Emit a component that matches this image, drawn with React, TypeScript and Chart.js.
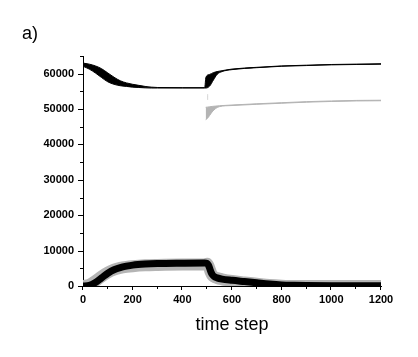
import React, { useEffect, useRef } from 'react';
import { Chart, registerables } from 'chart.js';

Chart.register(...registerables);

// ---- data ----
const panelLabel = 'a)';
const xTitle = 'time step';
const xTickValues = [0, 200, 400, 600, 800, 1000, 1200];
const yTickValues = [0, 10000, 20000, 30000, 40000, 50000, 60000];

// upper black band (population near the top)
const tUpper = [0, 25, 50, 75, 100, 125, 150, 175, 200, 225, 250, 275, 300, 400, 490, 495, 510, 525, 540, 560, 600, 700, 800, 900, 1000, 1100, 1200];
const blackTopHi = [63000, 62700, 62200, 61400, 60200, 59000, 58000, 57400, 57000, 56700, 56400, 56200, 56100, 56050, 56050, 59000, 59800, 60300, 60600, 60850, 61300, 61800, 62200, 62400, 62600, 62700, 62800];
const blackTopLo = [62100, 61300, 60200, 58900, 57700, 57000, 56600, 56400, 56200, 56100, 56000, 55950, 55950, 55950, 55950, 55950, 56500, 58200, 59800, 60600, 61150, 61700, 62100, 62300, 62500, 62600, 62700];

// upper grey band (appears after t = 494)
const tGray = [494, 500, 510, 520, 535, 550, 600, 700, 800, 900, 1000, 1100, 1200];
const grayTopHi = [50500, 50550, 50650, 50750, 50850, 50950, 51150, 51500, 51800, 52100, 52300, 52450, 52500];
const grayTopLo = [47000, 47300, 48200, 49200, 50200, 50700, 51000, 51350, 51650, 51950, 52150, 52300, 52350];

// small grey mark near t = 502
const tMark = [502, 502];
const markVals = [52600, 54200];

// lower series (black and grey)
const tBottom = [0, 25, 50, 75, 100, 125, 150, 175, 200, 250, 300, 400, 490, 500, 505, 510, 515, 520, 528, 540, 560, 600, 650, 700, 750, 800, 850, 900, 1000, 1100, 1200];
const blackBottom = [0, 150, 1000, 2300, 3600, 4600, 5200, 5600, 5900, 6200, 6350, 6450, 6500, 6400, 5900, 5000, 4000, 3300, 2700, 2300, 1950, 1600, 1250, 900, 550, 300, 200, 150, 100, 80, 60];
const grayBottom = [0, 300, 1400, 2700, 3800, 4600, 5100, 5400, 5600, 5850, 5950, 6050, 6100, 6300, 5700, 4800, 3800, 3100, 2600, 2250, 1900, 1400, 1000, 650, 300, 100, 0, 0, 0, 0, 0];

const X_MIN = 0, X_MAX = 1200, X_MINOR = 100, X_MAJOR = 200;
const Y_MIN = 0, Y_MAX = 65000, Y_MINOR = 5000, Y_MAJOR = 10000;

const FONT = '"Liberation Sans", Arial, sans-serif';
const GREY = '#b4b4b4';

const zip = (xs: number[], ys: number[]) => xs.map((x, i) => ({ x, y: ys[i] }));

const tickPlugin = {
  id: 'customTicks',
  afterDraw(chart: any) {
    const { ctx, chartArea } = chart;
    const xs = chart.scales.x;
    const ys = chart.scales.y;
    ctx.save();
    ctx.strokeStyle = '#000';
    ctx.lineWidth = 1;
    ctx.beginPath();
    for (let v = Y_MIN; v <= Y_MAX; v += Y_MINOR) {
      const py = Math.round(ys.getPixelForValue(v)) + 0.5;
      const len = v % Y_MAJOR === 0 ? 5 : 3;
      ctx.moveTo(chartArea.left - len, py);
      ctx.lineTo(chartArea.left, py);
    }
    for (let v = X_MIN; v <= X_MAX; v += X_MINOR) {
      const px = Math.round(xs.getPixelForValue(v)) - 0.5;
      const len = v % X_MAJOR === 0 ? 4 : 3;
      ctx.moveTo(px, chartArea.bottom);
      ctx.lineTo(px, chartArea.bottom + len);
    }
    ctx.stroke();
    ctx.fillStyle = '#000';
    ctx.font = `18px ${FONT}`;
    ctx.textBaseline = 'alphabetic';
    ctx.textAlign = 'left';
    ctx.fillText(panelLabel, 22, 39);
    ctx.restore();
  },
};

export default function App() {
  const ref = useRef<HTMLCanvasElement | null>(null);

  useEffect(() => {
    if (!ref.current) return;
    const common = {
      pointRadius: 0,
      pointHoverRadius: 0,
      cubicInterpolationMode: 'monotone' as const,
      borderJoinStyle: 'round' as const,
    };
    const chart = new Chart(ref.current, {
      type: 'line',
      data: {
        datasets: [
          { ...common, data: zip(tBottom, blackBottom), borderColor: '#000', borderWidth: 7, fill: false, clip: 0 },
          { ...common, data: zip(tBottom, grayBottom), borderColor: GREY, borderWidth: 12, fill: false, clip: 0 },
          { ...common, data: zip(tUpper, blackTopHi), borderColor: '#000', borderWidth: 1, fill: false },
          { ...common, data: zip(tUpper, blackTopLo), borderColor: '#000', borderWidth: 1, fill: '-1', backgroundColor: '#000' },
          { ...common, data: zip(tGray, grayTopHi), borderColor: GREY, borderWidth: 1, fill: false },
          { ...common, data: zip(tGray, grayTopLo), borderColor: GREY, borderWidth: 1, fill: '-1', backgroundColor: GREY },
          { ...common, data: zip(tMark, markVals), borderColor: '#d4d4d4', borderWidth: 1, fill: false },
        ] as any,
      },
      options: {
        responsive: false,
        animation: false,
        parsing: true,
        layout: { padding: { left: 0, right: 37, top: 56, bottom: 0 } },
        plugins: { legend: { display: false }, tooltip: { enabled: false }, title: { display: false } },
        scales: {
          x: {
            type: 'linear',
            min: X_MIN,
            max: X_MAX,
            grid: { display: false, drawTicks: false },
            border: { display: true, color: '#000', width: 1 },
            afterBuildTicks: (s: any) => { s.ticks = xTickValues.map((v) => ({ value: v })); },
            afterFit: (s: any) => { s.height = 71; },
            ticks: {
              padding: 7,
              color: '#000',
              font: { family: FONT, size: 11, weight: 'bold' },
              maxRotation: 0,
              autoSkip: false,
              callback: (v: any) => String(v),
            },
            title: {
              display: true,
              text: xTitle,
              color: '#000',
              font: { family: FONT, size: 18 },
              padding: { top: 0, bottom: 21 },
            },
          },
          y: {
            type: 'linear',
            min: Y_MIN,
            max: Y_MAX,
            grid: { display: false, drawTicks: false },
            border: { display: true, color: '#000', width: 1 },
            afterBuildTicks: (s: any) => { s.ticks = yTickValues.map((v) => ({ value: v })); },
            afterFit: (s: any) => { s.width = 83; },
            ticks: {
              padding: 9,
              color: '#000',
              font: { family: FONT, size: 11, weight: 'bold' },
              autoSkip: false,
              callback: (v: any) => String(v),
            },
          },
        },
      } as any,
      plugins: [tickPlugin],
    });
    return () => chart.destroy();
  }, []);

  return (
    <div style={{ position: 'absolute', left: 0, top: 0, width: 418, height: 357, background: '#fff' }}>
      <canvas ref={ref} width={418} height={357} style={{ display: 'block', width: 418, height: 357 }} />
    </div>
  );
}
